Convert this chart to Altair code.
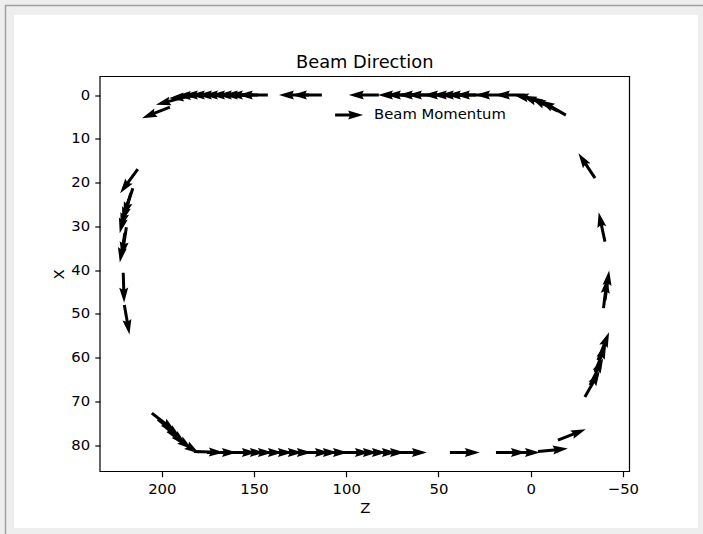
import altair as alt
import numpy as np
import pandas as pd

# ---- data (tail positions Z, X and momentum direction pZ, pX) ----
tl_z = [195.6, 187.5, 179.9, 176.1]
tl_x = [2.74, 0.46, 0.11, 0.0]
tl_pz = [0.93, 0.97, 1.0, 1.0]
tl_px = [0.37, 0.26, 0.09, 0.03]

top_z = [172.3, 168.5, 164.7, 161.4, 157.6, 153.9, 150.6, 147.9, 142.5, 120.2, 113.2,
         82.3, 66.5, 62.2, 55.7, 50.8, 42.1, 37.3, 33.5, 29.7, 24.8, 13.9, 3.1]
top_x = [0.0] * len(top_z)
top_pz = [1.0] * len(top_z)
top_px = [0.0] * len(top_z)

tr_z = [-6.7, -10.5, -14.8, -19.1]
tr_x = [1.37, 2.51, 3.66, 4.57]
tr_pz = [0.98, 0.94, 0.90, 0.87]
tr_px = [-0.21, -0.34, -0.44, -0.50]

left_z = [213.0, 215.7, 216.8, 217.8, 218.9, 219.2, 220.0, 220.9, 220.3]
left_x = [16.9, 21.3, 22.4, 23.8, 24.9, 30.2, 31.5, 40.6, 48.0]
left_pz = [0.59, 0.31, 0.29, 0.28, 0.24, 0.15, 0.17, -0.03, -0.17]
left_px = [0.81, 0.95, 0.96, 0.96, 0.97, 0.99, 0.99, 1.0, 0.98]

bl_z = [205.4, 202.1, 199.4, 196.7, 193.4, 182.6, 175.5]
bl_x = [72.7, 74.1, 75.4, 76.8, 78.2, 81.5, 81.7]
bl_pz = [-0.79, -0.77, -0.77, -0.80, -0.84, -1.0, -1.0]
bl_px = [0.62, 0.64, 0.64, 0.60, 0.54, 0.03, 0.0]

bot_z = [164.7, 160.4, 156.0, 150.6, 145.2, 139.8, 134.9, 125.1, 120.8, 115.3, 103.4,
         99.1, 94.2, 88.8, 84.4, 72.5, 43.8, 18.8, 11.2]
bot_x = [81.7] * len(bot_z)
bot_pz = [-1.0] * len(bot_z)
bot_px = [0.0] * len(bot_z)

br_z = [-4.0, -14.8]
br_x = [81.5, 78.9]
br_pz = [-0.99, -0.93]
br_px = [-0.10, -0.37]

right_z = [-29.4, -32.2, -34.9, -36.5, -39.5, -40.3, -40.3, -34.9]
right_x = [69.0, 66.3, 63.3, 60.6, 48.7, 46.9, 33.5, 19.0]
right_pz = [-0.50, -0.44, -0.37, -0.37, -0.12, -0.14, 0.21, 0.55]
right_px = [-0.87, -0.90, -0.93, -0.93, -0.99, -0.99, -0.98, -0.83]

x_ticks = [200, 150, 100, 50, 0, -50]
y_ticks = [0, 10, 20, 30, 40, 50, 60, 70, 80]

# ---- table ----
df = pd.DataFrame({
    "Z": tl_z + top_z + tr_z + left_z + bl_z + bot_z + br_z + right_z,
    "X": tl_x + top_x + tr_x + left_x + bl_x + bot_x + br_x + right_x,
    "pZ": tl_pz + top_pz + tr_pz + left_pz + bl_pz + bot_pz + br_pz + right_pz,
    "pX": tl_px + top_px + tr_px + left_px + bl_px + bot_px + br_px + right_px,
})
# Z axis runs right-to-left, X axis top-to-bottom
df["angle"] = np.degrees(np.arctan2(df["pX"], -df["pZ"])) % 360

W, H = 529.5, 395
PAD = {"left": 100, "top": 76.5, "right": 73.5, "bottom": 62.5}
FONT = "DejaVu Sans"


def arrow_path(L, w=3.0):
    hw = w / 2 / L
    hh = 1.5 * w / L
    barb = 1 - 5 * w / L
    notch = 1 - 4.5 * w / L
    return (f"M0,{-hw:.4f}L{notch:.4f},{-hw:.4f}L{barb:.4f},{-hh:.4f}L1,0"
            f"L{barb:.4f},{hh:.4f}L{notch:.4f},{hw:.4f}L0,{hw:.4f}Z")


ARROW_LEN = 30
KEY_LEN = 28
one = pd.DataFrame({"a": [0]})

bg = alt.Chart(one).mark_rect(color="white").encode(
    x=alt.value(-86), x2=alt.value(598), y=alt.value(-61.5), y2=alt.value(451.5))
vline = alt.Chart(one).mark_rule(color="#a0a0a0", strokeWidth=1.5).encode(
    x=alt.value(-94.5), y=alt.value(-71.5), y2=alt.value(457.5))
hline = alt.Chart(one).mark_rule(color="#a0a0a0", strokeWidth=1.5).encode(
    x=alt.value(-95), x2=alt.value(603), y=alt.value(-71))

xscale = alt.Scale(domain=[233.5, -53.6], nice=False, zero=False)
yscale = alt.Scale(domain=[-4.25, 86.05], reverse=True, nice=False, zero=False)

arrows = alt.Chart(df).mark_point(
    shape=arrow_path(ARROW_LEN), filled=True, size=(2 * ARROW_LEN) ** 2,
    color="black", opacity=1,
).encode(
    x=alt.X("Z:Q", scale=xscale,
            axis=alt.Axis(values=x_ticks, title="Z", titlePadding=4, zindex=1)),
    y=alt.Y("X:Q", scale=yscale,
            axis=alt.Axis(values=y_ticks, title="X", titlePadding=4, zindex=1)),
    angle=alt.Angle("angle:Q", scale=None),
)

frame = alt.Chart(one).mark_rect(fillOpacity=0, stroke="black", strokeWidth=1.2).encode(
    x=alt.value(0), x2=alt.value(W), y=alt.value(0), y2=alt.value(H))

key_arrow = alt.Chart(one).mark_point(
    shape=arrow_path(KEY_LEN), filled=True, size=(2 * KEY_LEN) ** 2,
    color="black", opacity=1,
).encode(x=alt.value(0.444 * W), y=alt.value(0.0975 * H), angle=alt.value(0))

key_text = alt.Chart(one).mark_text(
    align="left", baseline="middle", font=FONT, fontSize=14.8, color="black",
).encode(x=alt.value(0.444 * W + KEY_LEN + 11), y=alt.value(0.0975 * H),
         text=alt.value("Beam Momentum"))

title_text = alt.Chart(one).mark_text(
    align="center", baseline="alphabetic", font=FONT, fontSize=17.8, color="black",
).encode(x=alt.value(W / 2), y=alt.value(-8.9), text=alt.value("Beam Direction"))

chart = alt.layer(bg, vline, hline, arrows, frame, key_arrow, key_text, title_text).properties(
    width=W, height=H,
    padding=PAD,
    autosize=alt.AutoSizeParams(type="none"),
    background="#eeeeee",
).configure_view(strokeWidth=0).configure_axis(
    grid=False, domain=False, labelFlush=False,
    labelFont=FONT, labelFontSize=14.8, labelColor="black",
    tickColor="black", tickWidth=1.2, tickSize=5.2, labelPadding=5.2,
    titleFont=FONT, titleFontSize=14.8, titleFontWeight="normal", titleColor="black",
)

chart.save("out.html", embed_options={"renderer": "svg", "actions": False})
